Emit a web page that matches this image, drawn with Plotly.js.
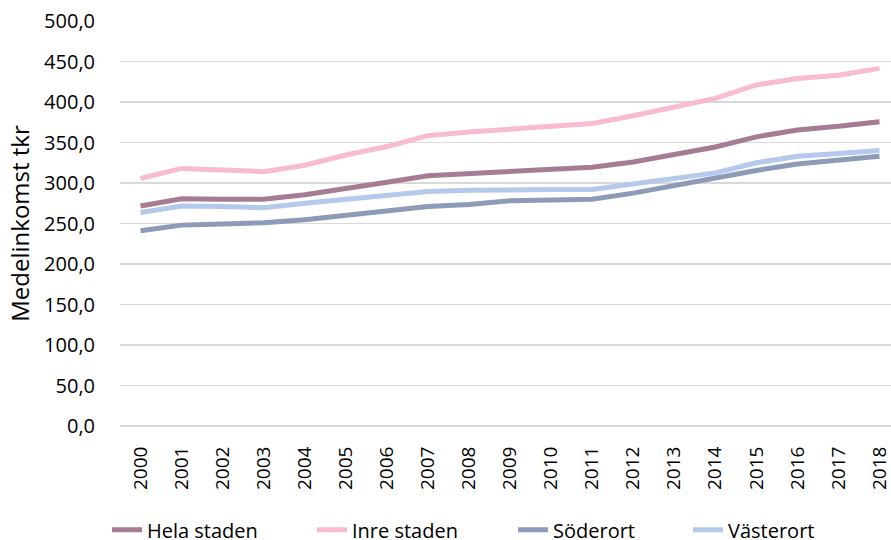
<!DOCTYPE html>
<html>
<head>
<meta charset="utf-8">
<script src="https://cdn.plot.ly/plotly-3.0.1.min.js"></script>
<style>html,body{margin:0;padding:0;background:#fff;}#chart{width:891px;height:540px;}</style>
</head>
<body>
<div id="chart"></div>
<script>
const years = [2000,2001,2002,2003,2004,2005,2006,2007,2008,2009,2010,2011,2012,2013,2014,2015,2016,2017,2018];
const helaStaden = [271.5,280.5,280.0,280.0,285.5,294.0,301.0,309.0,311.5,315.0,317.0,319.5,326.0,335.5,344.5,357.0,365.5,370.0,375.5];
const inreStaden = [305.5,318.0,316.0,314.0,322.0,334.5,345.0,358.5,363.0,366.5,369.0,373.5,383.0,393.0,404.5,421.0,429.0,433.0,441.5];
const soderort = [241.0,248.0,249.5,251.0,254.5,259.5,265.5,271.0,273.5,278.0,279.0,280.0,287.5,297.0,305.5,315.5,323.5,328.0,333.0];
const vasterort = [263.5,271.5,271.0,269.5,275.0,280.0,284.5,289.5,291.0,292.0,292.0,292.0,299.0,305.5,312.5,325.0,333.0,336.5,340.0];
const seriesNames = ["Hela staden","Inre staden","Söderort","Västerort"];
const seriesValues = [helaStaden, inreStaden, soderort, vasterort];
const seriesColors = ["#a67c95","#f8bbd0","#8d9bb8","#b4c9ec"];
const yTitle = "Medelinkomst tkr";

const FONT = "Open Sans, DejaVu Sans, sans-serif";
const legendIds = ["legend","legend2","legend3","legend4"];
const legendX = [107, 312, 513, 688];
const traces = seriesNames.map((n,i)=>({
  type:"scatter", mode:"lines", name:n, x:years, y:seriesValues[i],
  line:{color:seriesColors[i], width:5}, legend:legendIds[i]
}));

const layout = {
  width:891, height:540,
  margin:{l:120, r:0, t:21, b:114, autoexpand:false},
  paper_bgcolor:"#fff", plot_bgcolor:"#fff",
  separators:", ",
  font:{family:FONT, color:"#000", size:19},
  showlegend:true,
  xaxis:{
    range:[1999.5, 2018.28], tickmode:"array", tickvals:years, ticktext:years.map(String),
    tickangle:-90, showgrid:false, zeroline:false, showline:false, ticklabeloverflow:"allow",
    ticks:"outside", ticklen:12, tickcolor:"rgba(0,0,0,0)",
    tickfont:{family:FONT, size:19, color:"#000"}, fixedrange:true
  },
  yaxis:{
    range:[0,500], dtick:50, tick0:0, tickformat:".1f",
    showgrid:true, gridcolor:"#d9d9d9", gridwidth:1.5, zeroline:true, zerolinecolor:"#d9d9d9", zerolinewidth:1.5,
    showline:false, ticks:"outside", ticklen:20, tickcolor:"rgba(0,0,0,0)",
    tickfont:{family:FONT, size:20, color:"#000"},
    title:{text:yTitle, font:{family:FONT, size:24, color:"#000"}, standoff:7}
  }
};
legendIds.forEach((id,i)=>{
  layout[id] = {orientation:"h", xref:"container", yref:"container", x:legendX[i]/891, y:0.019,
    xanchor:"left", yanchor:"middle", bgcolor:"rgba(0,0,0,0)", entrywidth:160, entrywidthmode:"pixels",
    font:{family:FONT, size:20, color:"#000"}};
});
Plotly.newPlot("chart", traces, layout, {displayModeBar:false, staticPlot:true});
</script>
</body>
</html>
